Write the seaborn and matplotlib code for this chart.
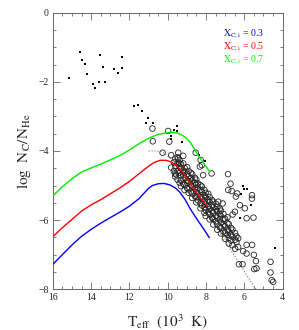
#!/usr/bin/env python3

import matplotlib
matplotlib.use('Agg')
import matplotlib.pyplot as plt     # visual plotting of data
import matplotlib.ticker as mticker
import seaborn as sns               # visual plotting of data
import pandas as pd                 # handling data

# model curves, log N_C/N_He vs Teff (10^3 K)
teff_07 = [16.0, 15.5, 15.0, 14.5, 14.0, 13.5, 13.0, 12.5, 12.0, 11.5, 11.0, 10.5, 10.0, 9.7, 9.45, 9.2, 9.0, 8.8, 8.6, 8.4, 8.2, 8.0, 7.8]
logc_07 = [-5.30, -5.03, -4.80, -4.61, -4.49, -4.38, -4.26, -4.13, -3.97, -3.79, -3.63, -3.52, -3.47, -3.46, -3.49, -3.56, -3.64, -3.77, -3.95, -4.13, -4.30, -4.45, -4.60]

teff_05 = [16.0, 15.5, 15.0, 14.5, 14.0, 13.5, 13.0, 12.5, 12.0, 11.5, 11.0, 10.7, 10.4, 10.1, 9.85, 9.6, 9.4, 9.2, 9.0, 8.8, 8.6, 8.4, 8.2, 8.0, 7.89]
logc_05 = [-6.48, -6.22, -5.98, -5.74, -5.56, -5.41, -5.24, -5.07, -4.88, -4.66, -4.44, -4.33, -4.27, -4.27, -4.31, -4.40, -4.50, -4.63, -4.80, -4.96, -5.12, -5.28, -5.43, -5.55, -5.62]

teff_03 = [16.0, 15.5, 15.0, 14.5, 14.0, 13.5, 13.0, 12.5, 12.0, 11.5, 11.2, 11.0, 10.8, 10.5, 10.2, 9.9, 9.6, 9.36, 9.1, 8.84, 8.6, 8.32, 8.05, 7.83]
logc_03 = [-7.28, -7.00, -6.72, -6.47, -6.27, -6.09, -5.93, -5.77, -5.60, -5.38, -5.20, -5.08, -5.00, -4.95, -4.94, -4.98, -5.07, -5.20, -5.40, -5.66, -5.87, -6.10, -6.32, -6.51]

# dotted fit line
teff_fit = [11.0, 10.6, 10.3, 10.1, 9.9, 9.5, 5.4]
logc_fit = [-4.00, -4.00, -4.02, -4.10, -4.20, -4.45, -8.00]

# observed objects, small dots
teff_dot = [15.16, 14.59, 14.47, 14.31, 14.22, 13.91, 13.79, 13.60, 13.27, 13.53, 13.40, 12.83, 12.60, 12.39, 12.39,
            11.77, 11.56, 11.37, 11.05, 11.14, 10.76, 9.54, 9.68, 9.49, 9.85, 9.85, 9.28, 8.35, 8.06,
            6.06, 5.99, 5.87, 6.16, 5.65, 6.23, 4.40]
logc_dot = [-1.90, -1.14, -1.36, -1.48, -1.76, -2.07, -2.17, -1.99, -2.00, -1.23, -1.57, -1.63, -1.73, -1.28, -1.59,
            -2.70, -2.68, -2.84, -3.05, -3.18, -3.20, -3.27, -3.40, -3.43, -3.58, -3.66, -3.74, -4.12, -4.28,
            -5.00, -5.10, -5.10, -5.25, -5.56, -5.95, -6.82]

# observed objects, open circles (outliers)
teff_circ = [10.80, 10.78, 9.98, 9.92, 10.27, 9.45, 9.45, 9.40, 8.54, 8.28, 8.22, 8.32, 9.57, 8.15, 7.71,
             6.85, 6.72, 6.84, 6.66, 6.37, 6.44, 5.60, 5.60, 6.23, 5.97, 6.49, 6.61, 5.88, 5.52, 7.36, 7.13,
             5.88, 5.59, 6.06, 5.88, 5.50, 5.39, 5.36, 5.48, 4.63, 4.63, 4.57, 4.49, 6.28, 6.09, 9.63, 9.19]
logc_circ = [-3.35, -3.72, -3.42, -3.73, -4.05, -4.05, -4.22, -4.36, -4.05, -4.26, -4.41, -4.45, -4.68, -4.70, -4.65,
             -4.67, -4.95, -5.13, -5.16, -5.23, -5.32, -5.28, -5.38, -5.57, -5.66, -5.76, -5.84, -5.95, -5.93, -5.47, -5.52,
             -6.72, -6.72, -6.90, -6.97, -7.01, -7.19, -7.40, -7.42, -7.21, -7.52, -7.74, -7.79, -7.28, -7.28, -4.65, -4.14]

# open circles in the dense band, read column by column
band_teff = [9.82, 9.68, 9.61, 9.49, 9.38, 9.31, 9.19, 9.12, 8.98, 8.91, 8.79, 8.72, 8.58, 8.51, 8.42, 8.29, 8.21, 8.08, 8.02,
             7.88, 7.81, 7.69, 7.62, 7.48, 7.41, 7.28, 7.22, 7.09, 7.01, 6.88, 6.81, 6.69, 6.62, 6.48, 6.41, 6.32]
band_logc = [
    [-4.12, -4.48],
    [-4.33, -4.58],
    [-4.22, -4.44, -4.74],
    [-4.18, -4.37, -4.59, -4.83],
    [-4.27, -4.46, -4.63, -4.92],
    [-4.38, -4.51, -4.71, -4.84, -5.02],
    [-4.36, -4.57, -4.69, -4.95],
    [-4.49, -4.62, -4.78, -4.99, -5.13],
    [-4.47, -4.66, -4.86, -4.93, -5.08],
    [-4.58, -4.73, -4.88, -5.11, -5.21],
    [-4.63, -4.79, -4.97, -5.17],
    [-4.68, -4.86, -5.04, -5.23, -5.36],
    [-4.78, -4.92, -5.09, -5.31],
    [-4.83, -4.98, -5.19, -5.34, -5.49],
    [-4.94, -5.06, -5.24, -5.43],
    [-4.99, -5.13, -5.33, -5.51, -5.66],
    [-5.03, -5.19, -5.38, -5.58],
    [-5.13, -5.28, -5.46, -5.63, -5.79],
    [-5.21, -5.34, -5.53, -5.71, -5.88],
    [-5.24, -5.43, -5.59, -5.78],
    [-5.33, -5.48, -5.68, -5.84, -5.98],
    [-5.42, -5.56, -5.74, -5.93],
    [-5.47, -5.63, -5.79, -5.97, -6.13],
    [-5.53, -5.69, -5.88, -6.04],
    [-5.62, -5.74, -5.93, -6.12, -6.28],
    [-5.67, -5.83, -5.98, -6.19],
    [-5.73, -5.89, -6.08, -6.23, -6.39],
    [-5.82, -5.97, -6.14, -6.33],
    [-5.96, -6.18, -6.37, -6.54],
    [-5.92, -6.09, -6.28, -6.43],
    [-6.12, -6.33, -6.52, -6.68],
    [-6.23, -6.42, -6.59],
    [-6.28, -6.48, -6.73],
    [-6.38, -6.57, -6.83],
    [-6.47, -6.64],
    [-6.53, -6.78],
]

labels = ['0.3', '0.5', '0.7']
colors = ['#0000ff', '#ff0000', '#00ee00']

sns.set_style('ticks')
plt.rcParams['font.family'] = ['Liberation Serif', 'DejaVu Serif']
plt.rcParams['mathtext.fontset'] = 'stix'

fig = plt.figure(figsize=(2.99, 3.30), dpi=100)
ax = fig.add_axes([0.177, 0.124, 0.768, 0.837])

# circles
circ = pd.DataFrame({'teff': teff_circ + [t for t, ys in zip(band_teff, band_logc) for _ in ys],
                     'logc': logc_circ + [y for ys in band_logc for y in ys]})
sns.scatterplot(data=circ, x='teff', y='logc', marker='o', s=16, facecolor='none',
                edgecolor='#222222', linewidth=0.6, ax=ax, zorder=2)

dots = pd.DataFrame({'teff': teff_dot, 'logc': logc_dot})
sns.scatterplot(data=dots, x='teff', y='logc', marker='s', s=2.5, color='black',
                linewidth=0, ax=ax, zorder=3)

fit = pd.DataFrame({'teff': teff_fit, 'logc': logc_fit})
sns.lineplot(data=fit, x='teff', y='logc', sort=False, color='#777777', linestyle=':',
             linewidth=0.8, ax=ax, zorder=1)

for tx, ly, c in [(teff_03, logc_03, colors[0]), (teff_05, logc_05, colors[1]), (teff_07, logc_07, colors[2])]:
    df = pd.DataFrame({'teff': tx, 'logc': ly})
    sns.lineplot(data=df, x='teff', y='logc', sort=False, color=c, linewidth=1.0, ax=ax, zorder=4)

ax.set_xlim(16, 4)
ax.set_ylim(-8, 0)
ax.xaxis.set_major_locator(mticker.MultipleLocator(2))
ax.xaxis.set_minor_locator(mticker.MultipleLocator(0.5))
ax.yaxis.set_major_locator(mticker.MultipleLocator(2))
ax.yaxis.set_minor_locator(mticker.MultipleLocator(0.5))
ax.tick_params(which='both', direction='in', top=True, right=True, color='#666666',
               labelsize=7, pad=3)
ax.tick_params(which='major', length=5, width=0.6)
ax.tick_params(which='minor', length=2.5, width=0.6)
ax.yaxis.set_major_formatter(mticker.FuncFormatter(lambda v, p: '%d' % v if v == 0 else '\u2212%d' % -v))
ax.xaxis.set_major_formatter(mticker.FuncFormatter(lambda v, p: '%d' % v))
for sp in ax.spines.values():
    sp.set_color('#666666')
    sp.set_linewidth(0.7)

ax.set_xlabel(r'$\mathrm{T_{eff}\ \ (10^3\ \ K)}$', fontsize=11, labelpad=7)
ax.set_ylabel(r'$\mathrm{log\ \ N_C/N_{He}}$', fontsize=11, labelpad=4)

for i, (lab, c) in enumerate(zip(labels, colors)):
    ax.text(0.74, 0.925 - i * 0.047, r'$\mathrm{X_{C,i}}$ = ' + lab, color=c, fontsize=7,
            transform=ax.transAxes, va='center', ha='left')

plt.savefig('out.png', dpi=100)
